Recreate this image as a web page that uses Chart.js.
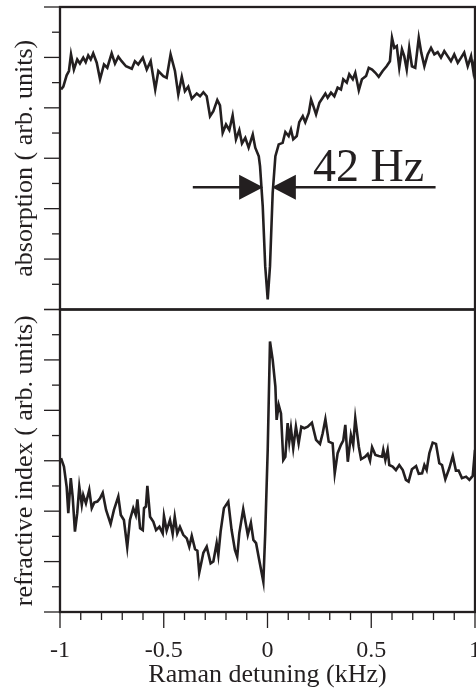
<!DOCTYPE html>
<html>
<head>
<meta charset="utf-8">
<title>Raman detuning</title>
<script src="https://cdn.jsdelivr.net/npm/chart.js@4.4.1/dist/chart.umd.min.js"></script>
<style>
  html, body { margin: 0; padding: 0; background: #fff; overflow: hidden; }
  canvas { display: block; }
</style>
</head>
<body>
<!-- a few px wider than the window: the "1" label at the right end is half cut -->
<canvas id="raman" width="481" height="691"></canvas>
<script>
// absorption trace (detuning in kHz, signal in arb. units)
const absDetuning = [
  -0.995,-0.984,-0.968,-0.957,-0.947,-0.933,-0.917,-0.904,-0.888,-0.876,
  -0.864,-0.852,-0.840,-0.823,-0.807,-0.788,-0.772,-0.751,-0.735,-0.719,
  -0.703,-0.682,-0.654,-0.639,-0.623,-0.601,-0.582,-0.563,-0.541,-0.526,
  -0.502,-0.486,-0.467,-0.446,-0.430,-0.413,-0.398,-0.382,-0.365,-0.341,
  -0.325,-0.309,-0.293,-0.277,-0.261,-0.242,-0.229,-0.216,-0.200,-0.184,
  -0.168,-0.152,-0.136,-0.123,-0.107,-0.091,-0.071,-0.059,-0.042,-0.036,
  -0.023,-0.011,0.001,0.012,0.025,0.038,0.054,0.073,0.086,0.102,
  0.113,0.124,0.141,0.153,0.170,0.182,0.199,0.210,0.221,0.234,
  0.250,0.266,0.279,0.290,0.306,0.322,0.338,0.354,0.365,0.382,
  0.394,0.411,0.423,0.440,0.455,0.475,0.488,0.504,0.520,0.536,
  0.555,0.574,0.590,0.600,0.611,0.623,0.635,0.648,0.659,0.671,
  0.683,0.696,0.712,0.729,0.741,0.756,0.772,0.788,0.804,0.820,
  0.836,0.852,0.868,0.884,0.900,0.917,0.933,0.948,0.965,0.981,
  0.992,1.000
];
const absSignal = [
  8.73,8.84,9.29,9.46,10.12,9.52,9.92,9.76,9.99,9.81,
  10.08,9.92,10.16,9.79,9.13,9.72,9.59,10.16,9.76,10.03,
  9.85,9.65,9.55,9.85,9.72,9.99,9.52,9.85,8.73,9.46,
  9.26,9.19,10.12,9.46,8.53,9.23,8.66,8.84,8.36,8.57,
  8.46,8.62,8.46,7.67,7.87,8.31,8.10,7.01,7.34,7.12,
  7.70,6.75,7.12,6.59,6.81,6.42,6.94,6.42,6.08,5.69,
  4.10,1.72,0.40,1.72,4.63,6.08,6.55,6.61,7.04,6.88,
  7.14,6.75,6.88,7.43,7.67,7.43,7.80,8.33,8.07,7.74,
  8.20,8.40,8.57,8.40,8.60,8.46,8.80,8.73,9.13,9.00,
  9.33,9.13,9.39,8.70,9.13,9.26,9.59,9.52,9.39,9.23,
  9.46,9.65,9.85,10.78,10.38,10.45,9.59,10.32,10.05,9.52,
  10.38,9.65,9.59,10.78,10.19,9.65,10.12,10.38,10.12,10.21,
  9.99,10.25,10.05,9.85,10.12,9.79,9.99,10.19,9.65,10.05,
  9.46,9.92
];

// refractive index (dispersion) trace
const refDetuning = [
  -0.995,-0.981,-0.968,-0.960,-0.948,-0.939,-0.928,-0.917,-0.907,-0.895,
  -0.888,-0.875,-0.859,-0.847,-0.835,-0.820,-0.807,-0.794,-0.778,-0.756,
  -0.740,-0.719,-0.707,-0.692,-0.676,-0.663,-0.647,-0.635,-0.627,-0.614,
  -0.601,-0.595,-0.586,-0.579,-0.566,-0.550,-0.537,-0.521,-0.505,-0.499,
  -0.486,-0.470,-0.457,-0.447,-0.435,-0.422,-0.406,-0.389,-0.377,-0.365,
  -0.349,-0.338,-0.329,-0.309,-0.293,-0.274,-0.261,-0.245,-0.237,-0.226,
  -0.210,-0.189,-0.173,-0.157,-0.146,
  -0.136,-0.117,-0.095,-0.080,-0.068,-0.055,-0.040,-0.020,-0.011,0.001,
  0.012,0.025,0.038,0.044,0.054,0.065,0.076,0.086,0.097,0.105,
  0.113,0.124,0.137,0.150,0.163,0.177,0.194,0.214,0.234,0.253,
  0.266,0.279,0.295,0.314,0.324,0.338,0.354,0.365,0.375,0.387,
  0.402,0.413,0.423,0.440,0.451,0.471,0.483,0.494,0.504,0.520,
  0.536,0.552,0.558,0.568,0.579,0.587,0.603,0.619,0.635,0.652,
  0.667,0.680,0.696,0.716,0.729,0.745,0.756,0.767,0.780,0.796,
  0.812,0.828,0.841,0.857,0.876,0.893,0.908,0.921,0.937,0.957,
  0.973,0.989,1.000
];
const refSignal = [
  6.10,5.77,4.97,3.92,5.31,4.58,3.19,3.92,4.97,4.25,
  4.64,4.31,4.84,4.12,4.34,4.38,4.51,4.73,4.05,3.49,
  4.05,4.58,3.85,3.65,2.57,3.65,4.12,3.85,4.47,3.32,
  3.25,4.12,4.18,5.00,3.78,3.58,3.25,3.38,3.12,3.81,
  3.23,3.65,3.10,3.78,3.12,3.38,3.06,2.92,2.59,3.02,
  2.49,2.43,1.56,2.35,2.59,1.93,2.00,2.73,2.26,3.19,
  4.12,4.38,3.25,2.46,2.19,
  3.12,4.08,3.06,3.54,2.86,2.73,2.06,1.20,3.12,6.43,
  10.73,10.00,8.94,7.62,8.21,7.88,6.03,6.16,7.49,6.76,
  7.29,6.50,7.35,6.69,7.35,7.29,7.35,7.51,6.83,6.67,
  7.09,7.65,6.76,6.69,5.50,6.30,6.63,6.80,7.42,5.96,
  7.02,6.63,7.69,6.56,6.06,6.16,6.27,6.00,6.54,6.23,
  6.19,6.16,6.43,6.03,6.43,5.83,5.77,5.63,5.83,5.63,
  5.24,5.17,5.66,5.79,5.48,5.50,5.83,5.63,6.30,6.72,
  6.67,5.90,5.83,5.27,5.70,6.19,5.61,5.61,5.31,5.37,
  5.24,5.40,6.43
];

// linewidth marker on the absorption dip
const widthLabel = '42 Hz';
const fwhm = 0.042;            // kHz
const markerLevel = 4.85;      // absorption units
const markerSpan = [-0.36, 0.81];
const labelAt = { x: 0.219, y: 5.08 };

const ink = '#231f20';
const serif = '"Liberation Serif", "Times New Roman", serif';

const toPoints = (xs, ys) => xs.map((x, i) => ({ x: x, y: ys[i] }));
const isHalf = v => Math.abs(v * 2 - Math.round(v * 2)) < 1e-6;

// frame around both panels, with outward ticks (long on major, short on minor)
const marco = {
  id: 'marco',
  afterDatasetsDraw(chart) {
    const { ctx, chartArea: a, scales } = chart;
    ctx.save();
    ctx.strokeStyle = ink;
    ctx.lineWidth = 1.3;
    ['yAbs', 'yRef'].forEach(id => {
      const s = scales[id];
      s.ticks.forEach(t => {
        const y = s.getPixelForValue(t.value);
        const len = Math.round(t.value) % 2 === 0 ? 16 : 8;
        ctx.beginPath();
        ctx.moveTo(a.left - len, y);
        ctx.lineTo(a.left, y);
        ctx.stroke();
      });
    });
    const sx = scales.x;
    sx.ticks.forEach(t => {
      const x = sx.getPixelForValue(t.value);
      const len = isHalf(t.value) ? 16 : 8;
      ctx.beginPath();
      ctx.moveTo(x, a.bottom);
      ctx.lineTo(x, a.bottom + len);
      ctx.stroke();
    });
    ctx.lineWidth = 2.3;
    ['yAbs', 'yRef'].forEach(id => {
      const s = scales[id];
      ctx.strokeRect(a.left, s.top, a.right - a.left, s.bottom - s.top);
    });
    ctx.restore();
  }
};

// arrows pointing at the dip and its width label
const anchura = {
  id: 'anchura',
  afterDatasetsDraw(chart) {
    const { ctx, scales: { x, yAbs } } = chart;
    const y = yAbs.getPixelForValue(markerLevel);
    const tipL = x.getPixelForValue(-fwhm / 2);
    const tipR = x.getPixelForValue(fwhm / 2);
    const head = 24, half = 12.5;
    ctx.save();
    ctx.strokeStyle = ink;
    ctx.fillStyle = ink;
    ctx.lineWidth = 2.4;
    ctx.beginPath();
    ctx.moveTo(x.getPixelForValue(markerSpan[0]), y);
    ctx.lineTo(tipL - head + 2, y);
    ctx.moveTo(tipR + head - 2, y);
    ctx.lineTo(x.getPixelForValue(markerSpan[1]), y);
    ctx.stroke();
    ctx.beginPath();
    ctx.moveTo(tipL, y);
    ctx.lineTo(tipL - head, y - half);
    ctx.lineTo(tipL - head, y + half);
    ctx.closePath();
    ctx.moveTo(tipR, y);
    ctx.lineTo(tipR + head, y - half);
    ctx.lineTo(tipR + head, y + half);
    ctx.closePath();
    ctx.fill();
    ctx.font = '46px ' + serif;
    ctx.textAlign = 'left';
    ctx.textBaseline = 'alphabetic';
    ctx.fillText(widthLabel, x.getPixelForValue(labelAt.x), yAbs.getPixelForValue(labelAt.y));
    ctx.restore();
  }
};

const panelAxis = (title) => ({
  type: 'linear',
  position: 'left',
  stack: 'panels',
  stackWeight: 1,
  min: 0,
  max: 12,
  ticks: { display: false, stepSize: 1 },
  grid: { display: false, drawTicks: false },
  border: { display: false },
  title: {
    display: true,
    text: title,
    color: ink,
    font: { family: serif, size: 26 },
    padding: { top: 10, bottom: 0 }
  },
  afterFit(s) { s.width = 60; }
});

new Chart(document.getElementById('raman'), {
  type: 'line',
  data: {
    datasets: [
      {
        label: 'absorption',
        data: toPoints(absDetuning, absSignal),
        yAxisID: 'yAbs',
        borderColor: ink,
        borderWidth: 2.6,
        pointRadius: 0,
        tension: 0
      },
      {
        label: 'refractive index',
        data: toPoints(refDetuning, refSignal),
        yAxisID: 'yRef',
        borderColor: ink,
        borderWidth: 2.6,
        pointRadius: 0,
        tension: 0
      }
    ]
  },
  options: {
    responsive: false,
    animation: false,
    devicePixelRatio: 1,
    layout: { padding: { top: 7, right: 1, left: 0, bottom: 0 } },
    plugins: { legend: { display: false }, tooltip: { enabled: false } },
    scales: {
      x: {
        type: 'linear',
        position: 'bottom',
        min: -1,
        max: 1,
        ticks: {
          stepSize: 0.1,
          autoSkip: false,
          maxRotation: 0,
          padding: 0,
          color: ink,
          font: { family: serif, size: 24 },
          callback: v => isHalf(v) ? String(Math.round(v * 2) / 2) : ''
        },
        // tick marks are drawn by the frame plugin; these only space the labels
        grid: { display: true, drawOnChartArea: false, drawTicks: true, tickLength: 24, tickColor: 'rgba(0,0,0,0)' },
        border: { display: false },
        title: {
          display: true,
          text: 'Raman detuning (kHz)',
          color: ink,
          font: { family: serif, size: 26 },
          padding: { top: 0, bottom: 0 }
        },
        afterFit(s) { s.height = 79; }
      },
      yRef: panelAxis('refractive index ( arb. units)'),
      yAbs: panelAxis('absorption ( arb. units)')
    }
  },
  plugins: [marco, anchura]
});
</script>
</body>
</html>
